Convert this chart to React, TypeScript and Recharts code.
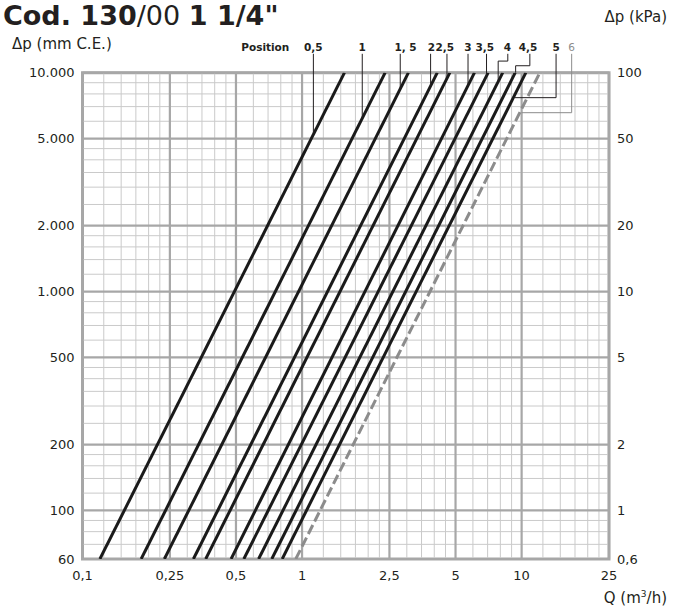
import {
  LineChart,
  Line,
  XAxis,
  YAxis,
  ReferenceLine,
  ReferenceDot,
  ReferenceArea,
} from "recharts";

// valve positions (handwheel turns)
const POSITIONS = ["0,5", "1", "1, 5", "2", "2,5", "3", "3,5", "4", "4,5", "5", "6"];
// flow (m3/h) read where each curve crosses 60 and 10.000 mm C.E.
const Q_AT_60 = [0.12, 0.185, 0.236, 0.32, 0.364, 0.475, 0.543, 0.634, 0.728, 0.812, 0.936];
const Q_AT_10000 = [1.56, 2.39, 3.05, 4.13, 4.71, 6.1, 7.04, 8.2, 9.35, 10.45, 12.1];

const X_TICKS = [0.1, 0.25, 0.5, 1, 2.5, 5, 10, 25];
const X_MINOR = [
  0.125, 0.15, 0.175, 0.2, 0.225, 0.3, 0.35, 0.4, 0.45, 0.6, 0.7, 0.8, 0.9,
  1.25, 1.5, 1.75, 2, 2.25, 3, 3.5, 4, 4.5, 6, 7, 8, 9, 12.5, 15, 17.5, 20, 22.5,
];
const Y_TICKS = [60, 100, 200, 500, 1000, 2000, 5000, 10000];
const Y_MINOR = [
  70, 80, 90, 120, 140, 160, 180, 250, 300, 350, 400, 450, 600, 700, 800, 900,
  1200, 1400, 1600, 1800, 2500, 3000, 3500, 4000, 4500, 6000, 7000, 8000, 9000,
];

// label anchor (Q) above the plot, and leader paths [Q, dp]
const LABEL_Q = [1.126, 1.88, 2.96, 3.88, 4.47, 5.7, 6.8, 8.61, 10.69, 14.35, 16.9];
const LEADERS: [number, number][][] = [
  [[1.126, 12200], [1.126, 5300]],
  [[1.88, 12200], [1.88, 6190]],
  [[2.8, 12200], [2.8, 8430]],
  [[3.85, 12200], [3.85, 8690]],
  [[4.57, 12200], [4.57, 9410]],
  [[5.7, 12200], [5.7, 8730]],
  [[6.92, 12200], [6.92, 9660]],
  [[8.65, 12200], [8.65, 11300], [7.82, 11300], [7.82, 9090]],
  [[10.9, 12200], [10.9, 10760], [9.39, 10760], [9.39, 10000]],
  [[14.35, 12200], [14.35, 7690], [9.3, 7690]],
  [[16.9, 12200], [16.9, 6565], [10.0, 6565]],
];
const LABEL_DP = 12600;

const INK = "#231f20";
const GRID_MAJOR = "#a7a7a7";
const GRID_MINOR = "#cacaca";
const DASHED = "#8c8c8c";

const fmtMm = (v: number) => (v >= 1000 ? `${v / 1000}.000` : String(v));
const fmtKpa = (v: number) => String(v / 100).replace(".", ",");
const fmtQ = (v: number) => String(v).replace(".", ",");

const tickStyle = { fill: INK, fontSize: 13, fontFamily: "DejaVu Sans" };

export default function App() {
  const series = POSITIONS.map((p, i) => ({
    name: p,
    data: [
      { q: Q_AT_60[i], dp: 60 },
      { q: Q_AT_10000[i], dp: 10000 },
    ],
  }));
  const last = POSITIONS.length - 1;

  return (
    <div style={{ position: "absolute", left: 0, top: 0, width: 685, height: 614, background: "#fff", overflow: "hidden" }}>
      <LineChart width={685} height={614} margin={{ top: 72.7, right: 16, bottom: 25, left: 0 }}>
        <XAxis
          dataKey="q"
          type="number"
          scale="log"
          domain={[0.1, 25]}
          allowDataOverflow
          ticks={X_TICKS}
          tickFormatter={fmtQ}
          axisLine={false}
          tickLine={false}
          tickSize={0}
          tickMargin={12}
          tick={tickStyle}
          interval={0}
        />
        <YAxis
          yAxisId="left"
          type="number"
          scale="log"
          domain={[60, 10000]}
          allowDataOverflow
          ticks={Y_TICKS}
          tickFormatter={fmtMm}
          axisLine={false}
          tickLine={false}
          tickSize={0}
          tickMargin={8}
          width={82.5}
          tick={tickStyle}
          interval={0}
        />
        <YAxis
          yAxisId="right"
          orientation="right"
          type="number"
          scale="log"
          domain={[60, 10000]}
          allowDataOverflow
          ticks={Y_TICKS}
          tickFormatter={fmtKpa}
          axisLine={false}
          tickLine={false}
          tickSize={0}
          tickMargin={8}
          width={60}
          tick={tickStyle}
          interval={0}
        />

        {X_MINOR.map((v) => (
          <ReferenceLine key={`xm${v}`} x={v} yAxisId="left" stroke={GRID_MINOR} strokeWidth={1} />
        ))}
        {Y_MINOR.map((v) => (
          <ReferenceLine key={`ym${v}`} y={v} yAxisId="left" stroke={GRID_MINOR} strokeWidth={1} />
        ))}
        {X_TICKS.map((v) => (
          <ReferenceLine key={`xM${v}`} x={v} yAxisId="left" stroke={GRID_MAJOR} strokeWidth={2.2} />
        ))}
        {Y_TICKS.map((v) => (
          <ReferenceLine key={`yM${v}`} y={v} yAxisId="left" stroke={GRID_MAJOR} strokeWidth={2.2} />
        ))}
        <ReferenceArea
          x1={0.1}
          x2={25}
          y1={60}
          y2={10000}
          yAxisId="left"
          fill="none"
          stroke={GRID_MAJOR}
          strokeWidth={3}
        />

        {series.map((s, i) => (
          <Line
            key={s.name}
            yAxisId="left"
            data={s.data}
            dataKey="dp"
            type="linear"
            stroke={i === last ? DASHED : "#1a1a1a"}
            strokeWidth={3}
            strokeDasharray={i === last ? "10 4" : undefined}
            dot={false}
            activeDot={false}
            isAnimationActive={false}
          />
        ))}

        {LEADERS.map((path, i) =>
          path.slice(1).map((pt, j) => (
            <ReferenceLine
              key={`ld${i}-${j}`}
              yAxisId="left"
              ifOverflow="visible"
              segment={[
                { x: path[j][0], y: path[j][1] },
                { x: pt[0], y: pt[1] },
              ]}
              stroke={i === last ? DASHED : INK}
              strokeWidth={1}
            />
          ))
        )}
        {POSITIONS.map((p, i) => (
          <ReferenceDot
            key={`lb${p}`}
            yAxisId="left"
            x={LABEL_Q[i]}
            y={LABEL_DP}
            r={0}
            ifOverflow="visible"
            shape={(props: any) => (
              <text
                x={props.cx}
                y={props.cy}
                textAnchor="middle"
                fontFamily="DejaVu Sans"
                fontSize={10.5}
                fontWeight={i === last ? 400 : 700}
                fill={i === last ? DASHED : INK}
              >
                {p}
              </text>
            )}
          />
        ))}
        <ReferenceDot
          yAxisId="left"
          x={0.68}
          y={LABEL_DP}
          r={0}
          ifOverflow="visible"
          shape={(props: any) => (
            <text x={props.cx} y={props.cy} textAnchor="middle" fontFamily="DejaVu Sans" fontSize={10.5} fontWeight={700} fill={INK}>
              Position
            </text>
          )}
        />
      </LineChart>

      <svg width={685} height={614} style={{ position: "absolute", left: 0, top: 0, pointerEvents: "none" }}>
        <text x={3} y={25} fontFamily="DejaVu Sans" fontSize={27} fill={INK}>
          <tspan fontWeight={700}>Cod. 130</tspan>
          <tspan fontWeight={400}>/00 </tspan>
          <tspan fontWeight={700}>1 1/4"</tspan>
        </text>
        <text x={12} y={49} fontFamily="DejaVu Sans" fontSize={15} fill={INK}>
          Δp (mm C.E.)
        </text>
        <text x={667} y={22} textAnchor="end" fontFamily="DejaVu Sans" fontSize={15} fill={INK}>
          Δp (kPa)
        </text>
        <text x={667} y={603} textAnchor="end" fontFamily="DejaVu Sans" fontSize={15} fill={INK}>
          Q (m<tspan fontSize={9} dy={-6}>3</tspan>
          <tspan dy={6}>/h)</tspan>
        </text>
      </svg>
    </div>
  );
}
